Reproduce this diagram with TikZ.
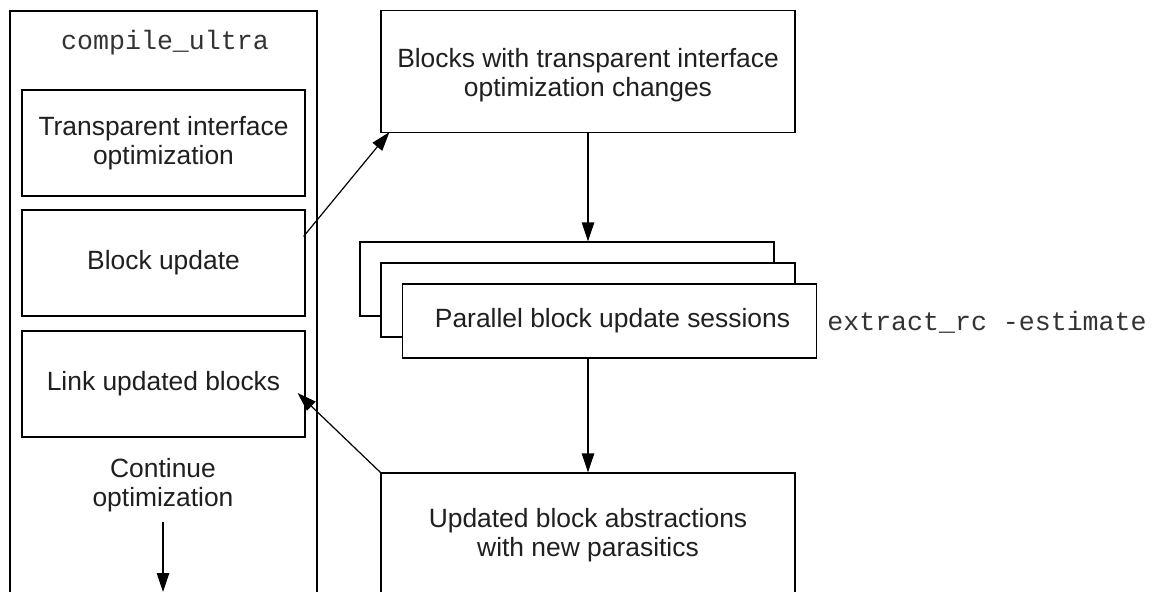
\documentclass[tikz,border=0pt]{standalone}
\usepackage{fontspec}
\setmainfont{Liberation Sans}
\setmonofont{Liberation Mono}
\usetikzlibrary{arrows.meta,calc}
\begin{document}
\begin{tikzpicture}[x=0.5pt,y=-0.5pt,
  txt/.style={font=\fontsize{13.2}{14.6}\selectfont, text=black!88},
  mono/.style={font=\ttfamily\fontsize{13.3}{14.6}\selectfont, text=black!80, inner sep=0pt},
  box/.style={draw, line width=0.6pt, rectangle, inner sep=0pt, align=center, fill=white, txt},
  lbl/.style={inner sep=0pt, align=center, txt},
  widebox/.style={box, minimum width=141.5pt, minimum height=53pt},
  bigbox/.style={box, minimum width=207pt},
  arr/.style={-{Triangle[length=9.5pt,width=6.2pt]}, line width=0.6pt}]
\useasboundingbox (0,0) rectangle (1155,591);
\clip (0,0) rectangle (1155,591);
% left column
\node[box, minimum width=153.5pt, minimum height=304.5pt] (outer) at (163.5,315.5) {};
\node[mono] (cu) at (165,43) {compile\_ultra};
\node[widebox] (b1) at (163.5,143) {Transparent interface\\optimization};
\node[widebox] (b2) at (163.5,263) {Block update};
\node[widebox] (b3) at (163.5,384) {Link updated blocks};
\node[lbl] (cont) at (163,485) {Continue\\optimization};
\coordinate (contend) at (163,592);
% right column
\node[bigbox, minimum height=61pt] (tb) at (588,71.5) {};
\node[lbl] (tbt) at (588,75) {Blocks with transparent interface\\optimization changes};
\node[bigbox, minimum height=37pt] (back) at (567,279) {};
\node[bigbox, minimum height=37pt] (mid) at (588,300) {};
\node[bigbox, minimum height=37pt] (front) at (609.5,321) {\hspace*{3pt}Parallel block update sessions};
\node[mono] (rc) at (987,322) {extract\_rc -estimate};
\node[bigbox, minimum height=62pt] (bb) at (588,535) {Updated block abstractions\\with new parasitics};
% connectors
\draw[arr] ($(b2.north east)+(-2,27)$) -- ($(tb.south west)+(9,-1)$);
\draw[arr] (tb.south) -- (tb.south |- back.north);
\draw[arr] (front.south -| bb.north) -- (bb.north);
\draw[arr] (bb.north west) -- ($(b3.east)+(-8,9)$);
\draw[arr] ($(cont.south)+(0,10)$) -- (contend);
\end{tikzpicture}
\end{document}
